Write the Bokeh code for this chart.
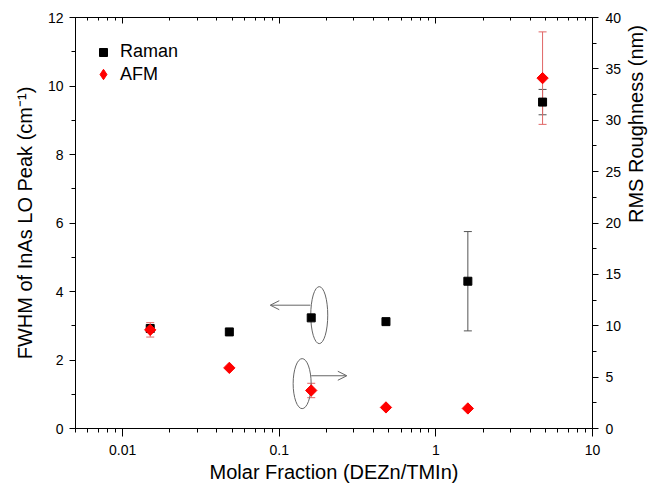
import math
from bokeh.plotting import figure
from bokeh.models import (Range1d, LinearAxis, LogAxis, FixedTicker, SingleIntervalTicker,
                          CustomJSTickFormatter, Whisker, TeeHead, ColumnDataSource, Arrow, OpenHead, Legend, LegendItem)
from bokeh.embed import file_html
from bokeh.resources import INLINE

# ---- data ----
molar_fraction = [0.015, 0.048, 0.16, 0.48, 1.6, 4.8]
raman_fwhm = [2.92, 2.82, 3.23, 3.12, 4.30, 9.53]
raman_err = [0.0, 0.0, 0.0, 0.0, 1.45, 0.37]
afm_rms = [9.6, 5.9, 3.7, 2.05, 1.95, 34.1]
afm_err = [0.7, 0.0, 0.7, 0.0, 0.0, 4.5]

x_major_ticks = [0.01, 0.1, 1, 10]
x_minor_ticks = [m * 10.0 ** e for e in range(-3, 2) for m in range(2, 10)]

# annotation anchors (data coords)
raman_ellipse = (0.180, 3.31)
afm_ellipse = (0.140, 1.31)
raman_arrow = ((0.158, 3.60), (0.0876, 3.60))
afm_arrow = ((0.160, 1.54), (0.270, 1.54))

FONT = "Liberation Sans"

p = figure(frame_width=517, frame_height=411, x_axis_type="log", x_range=(0.005, 10), y_range=(0, 12),
           output_backend="svg", toolbar_location=None,
           min_border_left=75, min_border_right=58, min_border_top=17, min_border_bottom=57)
p.extra_y_ranges = {"rms": Range1d(0, 40)}
p.grid.visible = False
p.outline_line_color = None
p.background_fill_color = "white"
p.border_fill_color = "white"

def style_axis(ax):
    ax.axis_line_color = "black"
    ax.axis_line_width = 1
    ax.major_tick_line_color = "black"
    ax.minor_tick_line_color = "black"
    ax.major_label_text_font = FONT
    ax.major_label_text_font_size = "14px"
    ax.major_label_text_color = "black"
    ax.axis_label_text_font = FONT
    ax.axis_label_text_font_size = "20px"
    ax.axis_label_text_font_style = "normal"
    ax.axis_label_text_color = "black"

# bottom log axis
xa = p.xaxis[0]
xa.ticker = FixedTicker(ticks=x_major_ticks, minor_ticks=x_minor_ticks)
xa.formatter = CustomJSTickFormatter(code="return tick.toString();")
xa.axis_label = "Molar Fraction (DEZn/TMIn)"
style_axis(xa)
xa.major_tick_out = 8
xa.major_tick_in = 0
xa.minor_tick_out = 4
xa.minor_tick_in = 0
xa.major_label_standoff = 8
xa.axis_label_standoff = 3

# left axis
ya = p.yaxis[0]
ya.ticker = SingleIntervalTicker(interval=2, num_minor_ticks=2)
ya.axis_label = "FWHM of InAs LO Peak (cm\u207b\u00b9)"
style_axis(ya)
ya.major_tick_out = 6
ya.major_tick_in = 0
ya.minor_tick_out = 4
ya.minor_tick_in = 0
ya.major_label_standoff = 6
ya.axis_label_standoff = 9

# right axis
ra = LinearAxis(y_range_name="rms", axis_label="RMS Roughness (nm)",
                ticker=SingleIntervalTicker(interval=5, num_minor_ticks=2))
style_axis(ra)
ra.major_tick_out = 6
ra.major_tick_in = 0
ra.minor_tick_out = 4
ra.minor_tick_in = 0
ra.major_label_standoff = 7
ra.axis_label_standoff = 12
ra.axis_label_orientation = math.pi / 2
p.add_layout(ra, "right")

# top axis (no labels, inward ticks)
ta = LogAxis(ticker=FixedTicker(ticks=x_major_ticks, minor_ticks=x_minor_ticks))
style_axis(ta)
ta.major_label_text_font_size = "1px"
ta.major_label_text_color = None
ta.major_label_standoff = 0
ta.major_tick_out = 0
ta.major_tick_in = 6
ta.minor_tick_out = 0
ta.minor_tick_in = 3
p.add_layout(ta, "above")

# annotations: ellipses and arrows
p.ellipse(x=[raman_ellipse[0]], y=[raman_ellipse[1]], width=17, height=57,
          width_units="screen", height_units="screen", fill_color=None,
          line_color="#666666", line_width=1)
p.ellipse(x=[afm_ellipse[0]], y=[afm_ellipse[1]], width=18, height=50,
          width_units="screen", height_units="screen", fill_color=None,
          line_color="#666666", line_width=1)
for (s, e) in (raman_arrow, afm_arrow):
    p.add_layout(Arrow(x_start=s[0], y_start=s[1], x_end=e[0], y_end=e[1],
                       line_color="#666666", line_width=1,
                       end=OpenHead(size=9, line_color="#666666", line_width=1)))

# error bars
rx = [x for x, e in zip(molar_fraction, raman_err) if e > 0]
ry = [y for y, e in zip(raman_fwhm, raman_err) if e > 0]
re_ = [e for e in raman_err if e > 0]
rsrc = ColumnDataSource(dict(base=rx, upper=[y + e for y, e in zip(ry, re_)], lower=[y - e for y, e in zip(ry, re_)]))
p.add_layout(Whisker(source=rsrc, base="base", upper="upper", lower="lower", dimension="height",
                     line_color="#555555", line_width=1,
                     upper_head=TeeHead(size=8, line_color="#555555", line_width=1),
                     lower_head=TeeHead(size=8, line_color="#555555", line_width=1)))

ax_ = [x for x, e in zip(molar_fraction, afm_err) if e > 0]
ay = [y for y, e in zip(afm_rms, afm_err) if e > 0]
ae = [e for e in afm_err if e > 0]
asrc = ColumnDataSource(dict(base=ax_, upper=[y + e for y, e in zip(ay, ae)], lower=[y - e for y, e in zip(ay, ae)]))
p.add_layout(Whisker(source=asrc, base="base", upper="upper", lower="lower", dimension="height",
                     y_range_name="rms", line_color="#e06666", line_width=1,
                     upper_head=TeeHead(size=8, line_color="#e06666", line_width=1),
                     lower_head=TeeHead(size=8, line_color="#e06666", line_width=1)))

# markers
r1 = p.scatter(molar_fraction, raman_fwhm, marker="square", size=8, fill_color="black", line_color="black")
# diamond-shaped key renderer for the legend (hidden beneath the rotated squares)
r2_key = p.scatter(molar_fraction, afm_rms, marker="diamond", size=10, fill_color="#ff0000",
                   line_color="#ff0000", y_range_name="rms")
r2 = p.scatter(molar_fraction, afm_rms, marker="square", angle=math.pi / 4, size=8,
               fill_color="#ff0000", line_color="#ff0000", y_range_name="rms")

def make_legend(item, glyph, margin, title_gap, standoff):
    lg = Legend(items=[item], location="top_left")
    lg.border_line_color = None
    lg.background_fill_alpha = 0
    lg.label_text_font = FONT
    lg.label_text_font_size = "18px"
    lg.label_text_color = "black"
    lg.glyph_width = glyph
    lg.glyph_height = glyph
    lg.margin = margin
    lg.padding = 0
    lg.label_standoff = standoff
    lg.title = " "
    lg.title_text_font_size = "1px"
    lg.title_standoff = title_gap
    return lg

p.add_layout(make_legend(LegendItem(label="Raman", renderers=[r1]), 20, 18, 5, 7))
p.add_layout(make_legend(LegendItem(label="AFM", renderers=[r2_key]), 26, 15, 28, 4))

open("out.html", "w").write(file_html(p, INLINE))
